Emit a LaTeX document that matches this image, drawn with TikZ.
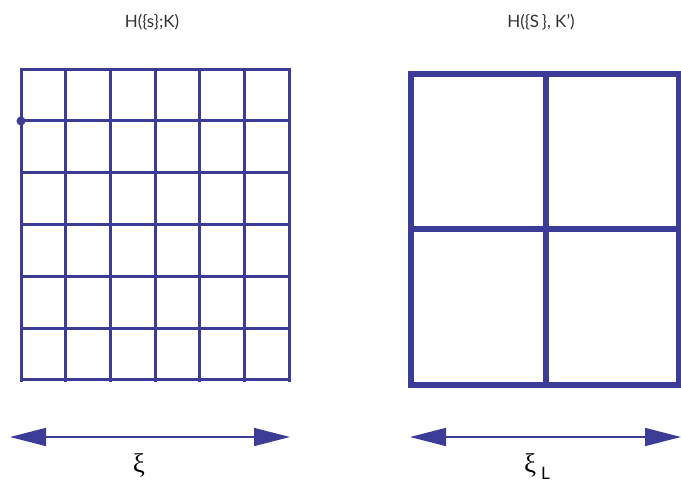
\documentclass[tikz,border=0pt]{standalone}
\usepackage{fontspec}
\setmainfont{Lato}
\newfontfamily\grk{Liberation Serif}
\usetikzlibrary{arrows.meta}
\definecolor{gridblue}{HTML}{3C3C96}
\definecolor{titlegray}{HTML}{333333}
\begin{document}
\begin{tikzpicture}[x=1pt,y=-1pt,
  thin grid/.style={draw=gridblue, line width=3pt, line cap=rect},
  thick grid/.style={draw=gridblue, line width=6pt, line join=miter},
  dim arrow/.style={draw=gridblue, line width=1.5pt,
    {Triangle[length=36pt,width=18pt]}-{Triangle[length=36pt,width=18pt]}},
  title/.style={text=titlegray, font=\fontsize{17}{20}\selectfont, anchor=base},
  sym/.style={text=black, font=\grk\fontsize{27}{30}\selectfont, anchor=base}]
\useasboundingbox (0,0) rectangle (681,483);
% left grid
\foreach \i in {0,...,6}
  \draw[thin grid] ({21+\i*44.67},69) -- ({21+\i*44.67},380);
\foreach \j in {0,...,6}
  \draw[thin grid] (21,{69+\j*51.83}) -- (289,{69+\j*51.83});
\fill[gridblue] (21,121) circle (4.5);
% right grid
\draw[thick grid] (411,74) rectangle (679,385);
\draw[thick grid] (546,74) -- (546,385);
\draw[thick grid] (411,229) -- (679,229);
% titles
\node[title] (t1) at (152,27) {H(\{s\};K)};
\node[title] (t2) at (541,27) {H(\{S\,\}, K')};
% arrows
\coordinate (a1l) at (10,437);
\coordinate (a1r) at (290,437);
\coordinate (a2l) at (410,437);
\coordinate (a2r) at (681,437);
\draw[dim arrow] (a1l) -- (a1r);
\draw[dim arrow] (a2l) -- (a2r);
% labels
\node[sym] (x1) at (139,472) {ξ};
\node[sym] (x2) at (537,472) {ξ\hspace{5pt}\raisebox{-7pt}{\rmfamily\fontsize{17}{20}\selectfont L}};
\end{tikzpicture}
\end{document}
